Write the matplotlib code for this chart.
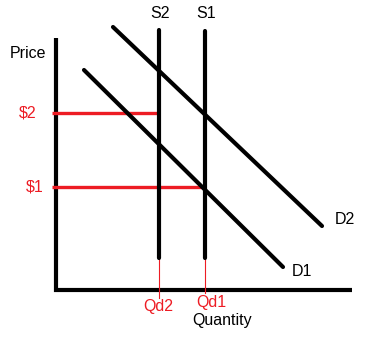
import matplotlib.pyplot as plt

# diagram drawn in pixel coordinates (y grows downwards)
axis_x = [56, 56, 352]
axis_y = [38, 290, 290]

supply_names = ['S2', 'S1']
supply_x = [159, 205]
supply_top = [30, 31]
supply_bottom = [258, 258]

demand_names = ['D1', 'D2']
demand_start = [(84, 70), (113, 27)]
demand_end = [(283, 267), (322, 226)]
demand_label_pos = [(302, 271), (345, 220)]

price_labels = ['$2', '$1']
price_y = [113, 187]
price_label_x = [28, 35]
price_x_end = [159, 205]

qty_labels = ['Qd2', 'Qd1']
qty_label_pos = [(158, 306), (211, 302)]
qty_drop_end = [298, 293]

RED = '#ED1C24'
plt.rcParams['font.family'] = ['Liberation Sans', 'DejaVu Sans']

fig = plt.figure(figsize=(3.85, 3.41), dpi=100)
ax = fig.add_axes([0, 0, 1, 1])
ax.set_xlim(0, 385)
ax.set_ylim(341, 0)
ax.axis('off')

# axes
ax.plot(axis_x, axis_y, color='black', lw=3.0, solid_capstyle='butt', solid_joinstyle='miter')

# red price lines
for lab, y, lx, xe in zip(price_labels, price_y, price_label_x, price_x_end):
    ax.plot([52, xe], [y, y], color=RED, lw=2.4, solid_capstyle='butt')
    ax.text(lx, y, lab, color=RED, fontsize=11.5, ha='center', va='center')

# thin red quantity drops
for x, ye in zip(supply_x, qty_drop_end):
    ax.plot([x, x], [258, ye], color=RED, lw=0.8)

# supply curves
for name, x, t, b in zip(supply_names, supply_x, supply_top, supply_bottom):
    ax.plot([x, x], [t, b], color='black', lw=3.0, solid_capstyle='round')
    ax.text(x + 1, 13, name, fontsize=11.5, ha='center', va='center')

# demand curves
for name, s, e, p in zip(demand_names, demand_start, demand_end, demand_label_pos):
    ax.plot([s[0], e[0]], [s[1], e[1]], color='black', lw=3.0, solid_capstyle='round')
    ax.text(p[0], p[1], name, fontsize=11.5, ha='center', va='center')

ax.text(28, 53, 'Price', fontsize=11.5, ha='center', va='center')
for lab, p in zip(qty_labels, qty_label_pos):
    ax.text(p[0], p[1], lab, color=RED, fontsize=11.5, ha='center', va='center')
ax.text(222, 320, 'Quantity', fontsize=11.5, ha='center', va='center')

fig.savefig('out.png', dpi=100)
